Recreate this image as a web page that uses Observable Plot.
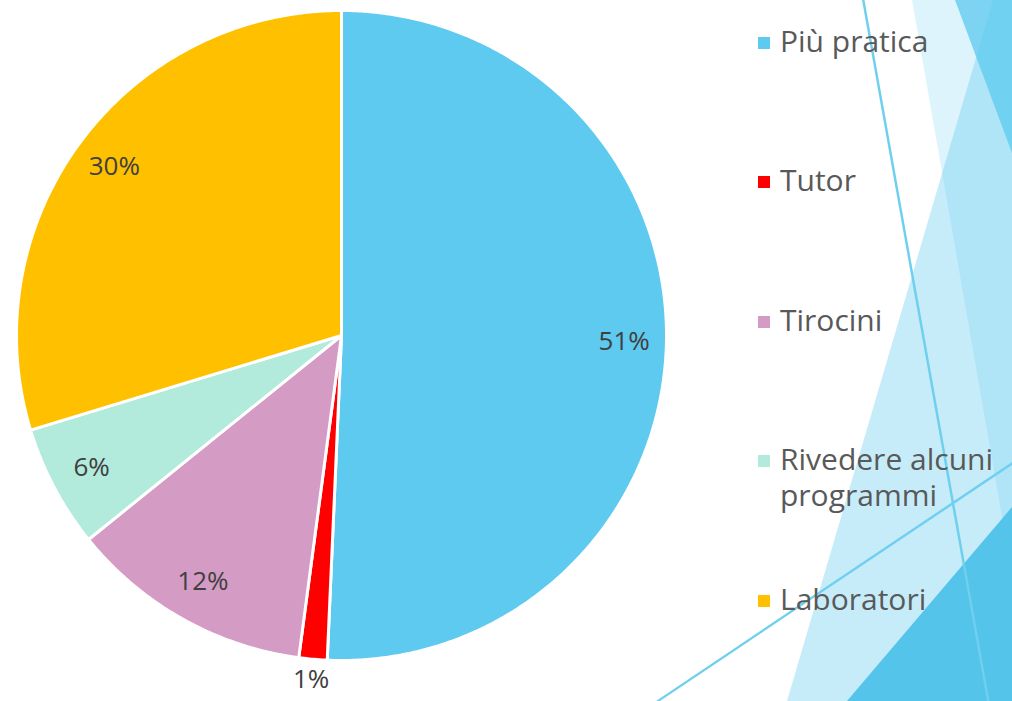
<!DOCTYPE html>
<html>
<head>
<meta charset="utf-8">
<script src="https://cdn.jsdelivr.net/npm/d3@7"></script>
<script src="https://cdn.jsdelivr.net/npm/@observablehq/plot@0.6"></script>
<style>
html, body { margin: 0; padding: 0; background: #fff; }
#wrap { position: relative; width: 1012px; height: 701px; overflow: hidden; font-family: "Open Sans", sans-serif; }
.deco { position: absolute; left: 0; top: 0; width: 1012px; height: 701px; z-index: 1; }
#decoA { background: #5BC9EF; opacity: 0.2; clip-path: polygon(912px 0, 1012px 0, 1012px 574px); }
#decoB { background: #5BC9EF; opacity: 0.35; clip-path: polygon(993px 0, 1012px 0, 1012px 701px, 787px 701px); }
#decoC { background: #5BC9EF; opacity: 0.75; clip-path: polygon(955px 0, 1012px 0, 1012px 153px); }
#decoD { background: #4FC2EA; opacity: 0.95; clip-path: polygon(847px 701px, 1012px 507px, 1012px 701px); }
#decoL1 { background: #6FCFEF; clip-path: polygon(862px 0, 864.5px 0, 989.5px 701px, 987px 701px); }
#decoL2 { background: #6FCFEF; clip-path: polygon(656px 701px, 1012px 462px, 1012px 465px, 660px 701px); }
#chart { position: absolute; left: 0; top: 0; z-index: 2; }
#legend { position: absolute; left: 758px; top: 23px; z-index: 3; }
.item { display: flex; align-items: flex-start; height: 139.4px; }
.sw { width: 12px; height: 12px; margin-top: 14px; margin-right: 10px; flex: none; }
.lab { font-size: 30px; line-height: 36px; color: #595959; width: 236px; }
</style>
</head>
<body>
<div id="wrap">
  <div class="deco" id="decoA"></div>
  <div class="deco" id="decoB"></div>
  <div class="deco" id="decoC"></div>
  <div class="deco" id="decoD"></div>
  <div class="deco" id="decoL1"></div>
  <div class="deco" id="decoL2"></div>
  <div id="chart"></div>
  <div id="legend"></div>
</div>
<script>
const categories = ["Più pratica", "Tutor", "Tirocini", "Rivedere alcuni programmi", "Laboratori"];
const shares = [50.7, 1.4, 12.1, 6.1, 29.7];
const labels = ["51%", "1%", "12%", "6%", "30%"];
const colors = ["#5ECAEF", "#FF0000", "#D49BC4", "#B2EADB", "#FFC000"];

const total = d3.sum(shares);
const ends = Array.from(d3.cumsum(shares));
const rows = [];
const labelRows = [];
categories.forEach((cat, i) => {
  const a0 = (ends[i] - shares[i]) / total * 2 * Math.PI;
  const a1 = ends[i] / total * 2 * Math.PI;
  const n = Math.max(2, Math.ceil((a1 - a0) / (Math.PI / 360)));
  rows.push({cat, x: 0, y: 0});
  for (let k = 0; k <= n; k++) {
    const a = a0 + (a1 - a0) * k / n;
    rows.push({cat, x: Math.sin(a), y: Math.cos(a)});
  }
  rows.push({cat, x: 0, y: 0});
  const mid = (a0 + a1) / 2;
  const r = shares[i] / total < 0.03 ? 1.062 : 0.87;
  labelRows.push({cat, label: labels[i], x: r * Math.sin(mid), y: r * Math.cos(mid)});
});

const chart = Plot.plot({
  width: 682,
  height: 701,
  marginLeft: 16,
  marginRight: 16,
  marginTop: 10,
  marginBottom: 41,
  x: {domain: [-1, 1], axis: null},
  y: {domain: [-1, 1], axis: null},
  color: {domain: categories, range: colors},
  style: {fontFamily: "Open Sans, sans-serif", background: "transparent", overflow: "visible"},
  marks: [
    Plot.line(rows, {x: "x", y: "y", z: "cat", fill: "cat", stroke: "white", strokeWidth: 3, strokeLinejoin: "round"}),
    Plot.text(labelRows, {x: "x", y: "y", text: "label", fontSize: 26, fill: "#404040"})
  ]
});
document.getElementById("chart").appendChild(chart);

const legend = document.getElementById("legend");
categories.forEach((cat, i) => {
  const item = document.createElement("div");
  item.className = "item";
  const sw = document.createElement("div");
  sw.className = "sw";
  sw.style.background = colors[i];
  const lab = document.createElement("div");
  lab.className = "lab";
  lab.textContent = cat;
  item.appendChild(sw);
  item.appendChild(lab);
  legend.appendChild(item);
});
</script>
</body>
</html>
